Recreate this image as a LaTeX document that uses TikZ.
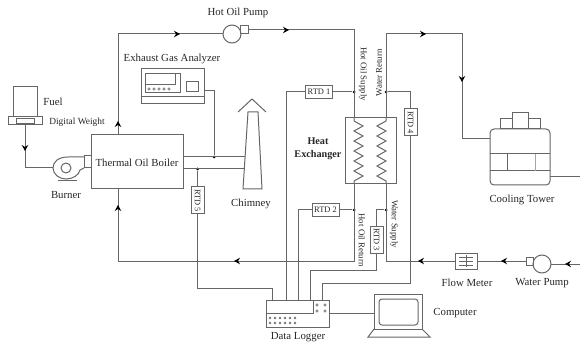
\documentclass[tikz,border=0pt]{standalone}
\usepackage{fontspec}
\usepackage{graphicx}
\setmainfont{Liberation Serif}
\usetikzlibrary{arrows.meta,decorations.markings}
\tikzset{
  pipe/.style={line width=1pt,draw=black!60},
  unit/.style={pipe,inner sep=0pt,outer sep=0pt},
  txt/.style={inner sep=0pt,text=black!85,font=\fontsize{10.8}{13}\selectfont},
  smalltxt/.style={txt,font=\fontsize{8.8}{11}\selectfont},
  rtdh/.style={unit,minimum width=27pt,minimum height=13pt,text=black!85,font=\fontsize{8.4}{10}\selectfont},
  rtdv/.style={unit,minimum width=13pt,minimum height=27pt,text=black!85,font=\fontsize{8.4}{10}\selectfont},
  junction/.style={circle,fill=black,inner sep=0pt,minimum size=3pt},
  flowtip/.style={postaction={decorate,decoration={markings,mark=at position #1 with {\arrow[black]{Stealth[length=6pt,width=6.5pt,inset=2pt]}}}}},
}
\begin{document}
\begin{tikzpicture}[x=1pt,y=-1pt]
        \useasboundingbox (0,0) rectangle (580,347);

        % Marking main units
        \node [unit,minimum width=92pt,minimum height=54pt] (boiler) at (137,162) {};%
        \node [unit,minimum width=51pt,minimum height=66pt] (exchanger) at (370.5,151) {};%
        \node [unit,minimum width=63pt,minimum height=35pt] (analyzer) at (172.5,86.5) {};%
        \node [unit,minimum width=24pt,minimum height=30pt] (tank) at (25,102) {};%
        \node [unit,minimum width=34pt,minimum height=8pt] (scale) at (25,121) {};%
        \node [unit,minimum width=18pt,minimum height=5pt] (scaletop) at (25,121) {};%
        \node [unit,circle,minimum size=18pt] (oilpump) at (232,34) {};%
        \node [unit,minimum width=8pt,minimum height=8pt] (oilneck) at (244,30) {};%
        \node [unit,circle,minimum size=18pt] (waterpump) at (542,264) {};%
        \node [unit,minimum width=7pt,minimum height=8pt] (waterneck) at (529.5,261) {};%
        \node [unit,minimum width=22pt,minimum height=16pt] (flowmeter) at (466,261) {};%
        \node [unit,rounded corners=4pt,minimum width=60pt,minimum height=56pt] (tower) at (520,157) {};%
        \node [unit,minimum width=63pt,minimum height=27pt] (logger) at (297.5,313.5) {};%
        \node [unit,minimum width=48pt,minimum height=35pt] (monitor) at (398,311.5) {};%
        \node [unit,minimum width=7pt,minimum height=12pt] (burnerneck) at (87.5,162) {};%

        % Marking free ends of the lines
        \coordinate (oilout) at (118,135);%
        \coordinate (oilin) at (354,118);%
        \coordinate (oilbot) at (354,184);%
        \coordinate (oilturn) at (118,261);%
        \coordinate (oilret) at (118,189);%
        \coordinate (watertop) at (386,118);%
        \coordinate (waterbot) at (386,184);%
        \coordinate (waterturn) at (462,34);%
        \coordinate (towerin) at (490,139);%
        \coordinate (towerout) at (550,177);%
        \coordinate (rightend) at (580,177);%
        \coordinate (pumpend) at (580,264);%
        \coordinate (burnerin) at (53,168);%
        \coordinate (flueA) at (183,157);%
        \coordinate (flueB) at (183,169);%
        \coordinate (chimneyA) at (245,157);%
        \coordinate (chimneyB) at (244.3,169);%
        \coordinate (analyzerout) at (204,91);%
        \coordinate (logA) at (272,300);%
        \coordinate (logB) at (286,300);%
        \coordinate (logC) at (298,300);%
        \coordinate (logD) at (310,300);%
        \coordinate (logE) at (322,300);%
        \coordinate (rtdAturn) at (286,92);%
        \coordinate (rtdBturn) at (298,210);%
        \coordinate (rtdCturn) at (310,270);%
        \coordinate (rtdDturn) at (322,283);%
        \coordinate (rtdEturn) at (272,288);%

        % Marking junctions by dots
        \node [junction] (analyzerin) at (214,157) {};%
        \node [junction] (rtdEin) at (197.5,169) {};%
        \node [junction] (rtdAin) at (354,92) {};%
        \node [junction] (rtdBin) at (354,210) {};%
        \node [junction] (rtdCin) at (386,210) {};%
        \node [junction] (rtdDin) at (386,92) {};%

        % Marking RTD boxes
        \node [rtdh] (rtdA) at (319,92) {RTD 1};%
        \node [rtdh] (rtdB) at (325.5,210) {RTD 2};%
        \node [rtdv] (rtdC) at (376.5,239.5) {\rotatebox{-90}{RTD 3}};%
        \node [rtdv] (rtdD) at (410.5,122.5) {\rotatebox{-90}{RTD 4}};%
        \node [rtdv] (rtdE) at (197.5,200.5) {\rotatebox{-90}{RTD 5}};%

        % Drawing hot oil loop
        \draw [pipe,flowtip=14pt,flowtip=163pt] (oilout) |- (oilpump.west);%
        \draw [pipe,flowtip=41pt] (oilneck.east) -| (oilin);%
        \draw [pipe] (oilin) -- ++(0,3) -- ++(9,5) -- ++(-9,5) -- ++(9,5) -- ++(-9,5) -- ++(9,5) -- ++(-9,5) -- ++(9,5) -- ++(-9,5) -- ++(9,5) -- ++(-9,5) -- ++(9,5) -- ++(-9,5) -- (oilbot);%
        \draw [pipe,flowtip=197pt,flowtip=369pt] (oilbot) |- (oilturn) -- (oilret);%

        % Drawing water loop
        \draw [pipe] (watertop) -- ++(0,3) -- ++(-9,5) -- ++(9,5) -- ++(-9,5) -- ++(9,5) -- ++(-9,5) -- ++(9,5) -- ++(-9,5) -- ++(9,5) -- ++(-9,5) -- ++(9,5) -- ++(-9,5) -- ++(9,5) -- (waterbot);%
        \draw [pipe,flowtip=37pt] (flowmeter.west) -| (waterbot);%
        \draw [pipe,flowtip=124pt,flowtip=208pt] (watertop) |- (waterturn) |- (towerin);%
        \draw [pipe] (towerout) -- (rightend);%
        \draw [pipe,flowtip=15pt] (pumpend) -- (waterpump.east);%
        \draw [pipe,flowtip=25pt] (waterneck.west) -- (flowmeter.east);%

        % Drawing fuel feed and flue
        \draw [pipe,flowtip=26pt] (scale.south) |- (burnerin);%
        \draw [pipe] (flueA) -- (chimneyA);%
        \draw [pipe] (flueB) -- (chimneyB);%
        \draw [pipe] (analyzerout) -| (analyzerin);%

        % Drawing signal lines
        \draw [pipe] (rtdAin) -- (rtdA);%
        \draw [pipe] (rtdA) -- (rtdAturn) -- (logB);%
        \draw [pipe] (rtdBin) -- (rtdB);%
        \draw [pipe] (rtdB) -- (rtdBturn) -- (logC);%
        \draw [pipe] (rtdCin) -| (rtdC.north);%
        \draw [pipe] (rtdC.south) |- (rtdCturn) -- (logD);%
        \draw [pipe] (rtdDin) -| (rtdD.north);%
        \draw [pipe] (rtdD.south) |- (rtdDturn) -- (logE);%
        \draw [pipe] (rtdEin) -- (rtdE.north);%
        \draw [pipe] (rtdE.south) |- (rtdEturn) -- (logA);%
        \draw [pipe] (logger.east) -- (logger.east -| monitor.west);%

        % Drawing chimney
        \draw [pipe] (248,112) -- (258,112) -- (262,189) -- (243,189) -- cycle;%
        \draw [pipe] (238,112) -- (252,99) -- (266,112);%

        % Drawing burner
        \draw [pipe] (84,157) -- (68,157) .. controls (58,157) and (53,162) .. (53,168) .. controls (53,174) and (59,179) .. (66,179) .. controls (73,179) and (79,175) .. (80,170) -- (84,168);%
        \draw [pipe] (66,168) circle (5);%
        \draw [pipe] (58,180.5) -- (77,180.5);%

        % Drawing analyzer details
        \draw [pipe] (141,97) -- (204,97);%
        \draw [pipe] (145,74) rectangle (180,93);%
        \draw [pipe] (175,74) -- (175,85) -- (145,85);%
        \draw [pipe] (186,82) rectangle (198,92);%
        \draw [pipe,line width=0.5pt] (149,89) circle (1.2) (154,89) circle (1.2) (159,89) circle (1.2) (164,89) circle (1.2) (169,89) circle (1.2);%

        % Drawing flow meter details
        \draw [pipe,line width=0.6pt] (459,257) -- (473,257) (459,261) -- (473,261) (459,265) -- (473,265) (466,255) -- (466,267);%

        % Drawing tower details
        \draw [pipe] (512,113) rectangle (528,129);%
        \draw [pipe] (500,119) rectangle (512,129);%
        \draw [pipe] (528,119) rectangle (540,129);%
        \draw [pipe] (490,154) -- (550,154);%
        \draw [pipe] (490,171) -- (550,171);%
        \draw [pipe] (507,154) -- (507,171);%
        \draw [pipe,draw=black!35] (535,154) -- (535,171);%

        % Drawing logger details
        \draw [pipe] (266,313) -- (313,313) -- (313,300);%
        \draw [pipe,line width=0.5pt] (317,305) circle (1.3) (325,305) circle (1.3) (317,311) circle (1.3) (325,311) circle (1.3);%
        \draw [pipe,line width=0.5pt] (270,318) circle (1) (275,318) circle (1) (280,318) circle (1) (285,318) circle (1) (290,318) circle (1) (295,318) circle (1);%
        \draw [pipe,line width=0.5pt] (270,323) circle (1) (275,323) circle (1) (280,323) circle (1) (285,323) circle (1) (290,323) circle (1) (295,323) circle (1);%

        % Drawing computer details
        \draw [pipe,rounded corners=3pt] (379,299) rectangle (418,325);%
        \draw [pipe] (374,329) -- (368,337) -- (430,337) -- (422,329);%

        % Writing labels
        \node [txt] (oilpumptxt) at (238,13) {Hot Oil Pump};%
        \node [txt] (analyzertxt) at (172,59) {Exhaust Gas Analyzer};%
        \node [txt] (fueltxt) at (53,102) {Fuel};%
        \node [txt,font=\fontsize{9.4}{11}\selectfont] (weighttxt) at (77,122) {Digital Weight};%
        \node [txt] (boilertxt) at (137,163) {Thermal Oil Boiler};%
        \node [txt] (burnertxt) at (66,195) {Burner};%
        \node [txt] (chimneytxt) at (251,204) {Chimney};%
        \node [txt,align=center,font=\fontsize{10.2}{13}\selectfont\bfseries] (exchangertxt) at (318,149) {Heat\\Exchanger};%
        \node [smalltxt,rotate=-90] (supplytxt) at (363,74) {Hot Oil Supply};%
        \node [smalltxt,rotate=90] (returntxt) at (379,73) {Water Return};%
        \node [smalltxt,rotate=-90] (watersupplytxt) at (394,224) {Water Supply};%
        \node [smalltxt,rotate=-90] (oilreturntxt) at (362,240) {Hot Oil Return};%
        \node [txt] (towertxt) at (522,200) {Cooling Tower};%
        \node [txt] (metertxt) at (467,283) {Flow Meter};%
        \node [txt] (pumptxt) at (542,283) {Water Pump};%
        \node [txt] (computertxt) at (455,313) {Computer};%
        \node [txt] (loggertxt) at (298,337) {Data Logger};%
\end{tikzpicture}
\end{document}
